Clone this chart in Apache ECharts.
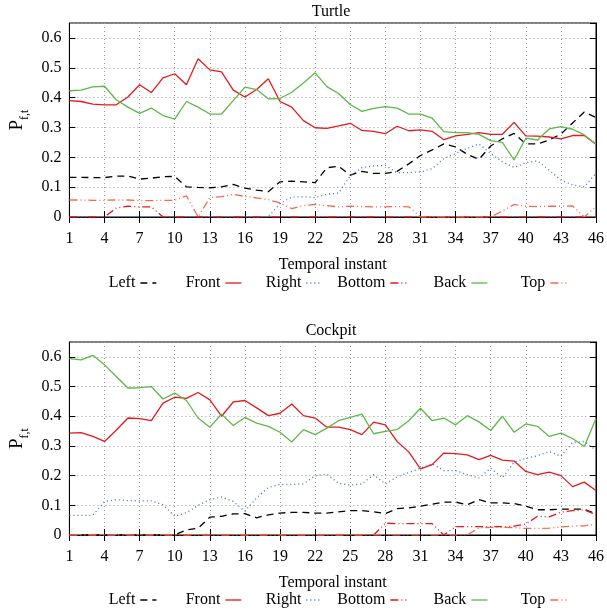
<!DOCTYPE html>
<html>
<head>
<meta charset="utf-8">
<script src="https://cdn.jsdelivr.net/npm/echarts@6/dist/echarts.min.js"></script>
<style>html,body{margin:0;padding:0;background:#fff}#c{width:607px;height:612px}</style>
</head>
<body>
<div id="c"></div>
<script>
const instants = ['1','2','3','4','5','6','7','8','9','10','11','12','13','14','15','16','17','18','19','20','21','22','23','24','25','26','27','28','29','30','31','32','33','34','35','36','37','38','39','40','41','42','43','44','45','46'];
const yTicks = [0, 0.1, 0.2, 0.3, 0.4, 0.5, 0.6];
const seriesNames = ['Left', 'Front', 'Right', 'Bottom', 'Back', 'Top'];

// Turtle
const turtleLeft   = [0.133,0.133,0.132,0.132,0.137,0.137,0.127,0.13,0.135,0.136,0.101,0.099,0.098,0.101,0.109,0.097,0.09,0.085,0.118,0.12,0.118,0.115,0.165,0.17,0.14,0.153,0.146,0.146,0.153,0.178,0.206,0.225,0.245,0.235,0.21,0.193,0.238,0.262,0.28,0.245,0.245,0.258,0.278,0.315,0.352,0.333];
const turtleFront  = [0.39,0.387,0.378,0.376,0.376,0.402,0.443,0.417,0.466,0.48,0.443,0.53,0.493,0.486,0.425,0.402,0.427,0.463,0.387,0.368,0.323,0.299,0.297,0.305,0.314,0.29,0.287,0.279,0.304,0.289,0.292,0.287,0.259,0.272,0.277,0.283,0.277,0.277,0.317,0.272,0.271,0.268,0.262,0.273,0.273,0.244];
const turtleRight  = [0,0,0,0,0,0,0,0,0,0,0,0,0,0,0,0,0,0,0.045,0.067,0.068,0.065,0.076,0.08,0.138,0.166,0.171,0.173,0.148,0.149,0.151,0.162,0.196,0.213,0.23,0.245,0.213,0.185,0.166,0.182,0.188,0.157,0.124,0.107,0.101,0.147];
const turtleBottom = [0,0,0,0,0.03,0.036,0.034,0.034,0,0,0,0,0,0,0,0,0,0,0,0,0,0,0,0,0,0,0,0,0,0,0,0,0,0,0,0,0,0,0,0,0,0,0,0,0,0];
const turtleBack   = [0.423,0.425,0.436,0.438,0.393,0.368,0.347,0.365,0.34,0.328,0.387,0.368,0.345,0.345,0.39,0.435,0.427,0.396,0.397,0.418,0.449,0.483,0.437,0.414,0.377,0.354,0.364,0.37,0.365,0.345,0.345,0.331,0.286,0.283,0.283,0.277,0.256,0.25,0.191,0.264,0.258,0.295,0.303,0.294,0.275,0.244];
const turtleTop    = [0.057,0.057,0.056,0.056,0.057,0.057,0.055,0.055,0.056,0.056,0.071,0,0.065,0.068,0.076,0.069,0.064,0.058,0.047,0.028,0.038,0.042,0.038,0.034,0.036,0.035,0.034,0.034,0.035,0.034,0,0,0,0,0,0,0,0.02,0.042,0.036,0.035,0.036,0.036,0.037,0,0.035];

// Cockpit
const cockpitLeft   = [0,0,0,0,0,0,0,0,0,0,0.017,0.023,0.06,0.063,0.071,0.072,0.058,0.068,0.074,0.076,0.076,0.074,0.074,0.078,0.082,0.082,0.078,0.072,0.089,0.091,0.097,0.104,0.111,0.111,0.102,0.119,0.108,0.108,0.106,0.097,0.085,0.085,0.087,0.087,0.087,0.071];
const cockpitFront  = [0.343,0.345,0.332,0.315,0.353,0.394,0.392,0.385,0.444,0.464,0.46,0.48,0.455,0.4,0.448,0.453,0.428,0.402,0.41,0.441,0.402,0.394,0.363,0.363,0.355,0.338,0.38,0.371,0.315,0.28,0.223,0.237,0.276,0.274,0.27,0.254,0.268,0.252,0.249,0.214,0.203,0.212,0.2,0.163,0.178,0.15];
const cockpitRight  = [0.066,0.066,0.066,0.113,0.119,0.116,0.115,0.115,0.102,0.063,0.075,0.1,0.119,0.128,0.113,0.08,0.125,0.16,0.17,0.17,0.172,0.2,0.205,0.174,0.168,0.172,0.203,0.172,0.196,0.21,0.225,0.24,0.217,0.217,0.203,0.192,0.225,0.193,0.245,0.258,0.267,0.281,0.265,0.312,0.315,0.286];
const cockpitBottom = [0,0,0,0,0,0,0,0,0,0,0,0,0,0,0,0,0,0,0,0,0,0,0,0,0,0,0,0.04,0.038,0.038,0.038,0.038,0,0.028,0.028,0.028,0.028,0.028,0.03,0.037,0.063,0.061,0.077,0.082,0.085,0.068];
const cockpitBack   = [0.594,0.59,0.605,0.573,0.534,0.495,0.496,0.5,0.458,0.478,0.453,0.394,0.363,0.407,0.369,0.396,0.377,0.366,0.346,0.313,0.355,0.338,0.36,0.385,0.396,0.407,0.341,0.349,0.355,0.385,0.427,0.385,0.394,0.371,0.402,0.381,0.352,0.4,0.346,0.374,0.366,0.332,0.343,0.325,0.298,0.392];
const cockpitTop    = [0,0,0,0,0,0,0,0,0,0,0,0,0,0,0,0,0,0,0,0,0,0,0,0,0,0,0,0,0,0,0,0,0,0,0,0.024,0.026,0.026,0.025,0.022,0.022,0.023,0.027,0.03,0.031,0.037];

const FONT = 'Liberation Serif';
const styles = {
  Left:   {color: '#000000', type: [7, 5]},
  Front:  {color: '#e41a1c', type: 'solid'},
  Right:  {color: '#4169c8', type: [1, 3]},
  Bottom: {color: '#e41a1c', type: [8, 3, 1, 3, 1, 3]},
  Back:   {color: '#5cb849', type: 'solid'},
  Top:    {color: '#f4694c', type: [8, 3, 1, 3, 1, 3]}
};

const grids = [
  {left: 67, top: 23, width: 529, height: 194, show: true, borderColor: '#000', borderWidth: 1},
  {left: 67, top: 342, width: 529, height: 193, show: true, borderColor: '#000', borderWidth: 1}
];

const xAxes = [], yAxes = [];
[0, 1].forEach(g => {
  xAxes.push({
    type: 'category', gridIndex: g, data: instants, boundaryGap: false,
    name: 'Temporal instant', nameLocation: 'middle', nameGap: 40,
    nameTextStyle: {fontFamily: FONT, fontSize: 16, color: '#000'},
    axisLine: {lineStyle: {color: '#000'}},
    axisTick: {inside: true, length: 6, interval: 2, lineStyle: {color: '#000'}},
    axisLabel: {interval: 2, margin: 14, fontFamily: FONT, fontSize: 16, color: '#000'},
    splitLine: {show: true, interval: 2, lineStyle: {color: '#9a9a9a', type: [1, 3]}}
  });
  xAxes.push({
    type: 'category', gridIndex: g, data: instants, boundaryGap: false, position: 'top',
    axisLine: {show: true, lineStyle: {color: '#000'}},
    axisTick: {inside: true, length: 6, interval: 2, lineStyle: {color: '#000'}},
    axisLabel: {show: false}, splitLine: {show: false}
  });
  yAxes.push({
    type: 'value', gridIndex: g, min: yTicks[0], max: 0.65, interval: 0.1,
    name: '{p|P}{s|f,t}', nameLocation: 'middle', nameGap: 38, nameRotate: 90,
    nameTextStyle: {fontFamily: FONT, color: '#000',
      rich: {p: {fontFamily: FONT, fontSize: 19, lineHeight: 26, color: '#000'},
             s: {fontFamily: FONT, fontSize: 12, lineHeight: 12, verticalAlign: 'bottom', color: '#000'}}},
    axisLine: {show: true, lineStyle: {color: '#000'}},
    axisTick: {show: true, inside: true, length: 6, lineStyle: {color: '#000'}},
    axisLabel: {margin: 8, fontFamily: FONT, fontSize: 16, color: '#000', showMaxLabel: false},
    splitLine: {show: true, lineStyle: {color: '#9a9a9a', type: [1, 3]}}
  });
  yAxes.push({
    type: 'value', gridIndex: g, min: yTicks[0], max: 0.65, interval: 0.1, position: 'right',
    axisLine: {show: true, lineStyle: {color: '#000'}},
    axisTick: {show: true, inside: true, length: 6, lineStyle: {color: '#000'}},
    axisLabel: {show: false}, splitLine: {show: false}
  });
});

const datasets = [
  {Left: turtleLeft, Front: turtleFront, Right: turtleRight, Bottom: turtleBottom, Back: turtleBack, Top: turtleTop},
  {Left: cockpitLeft, Front: cockpitFront, Right: cockpitRight, Bottom: cockpitBottom, Back: cockpitBack, Top: cockpitTop}
];

const series = [];
[0, 1].forEach(g => {
  seriesNames.forEach(n => {
    series.push({
      name: n, type: 'line', xAxisIndex: g * 2, yAxisIndex: g * 2,
      data: datasets[g][n], showSymbol: false, symbol: 'none', animation: false,
      lineStyle: {color: styles[n].color, type: styles[n].type, width: 1.3},
      itemStyle: {color: styles[n].color}
    });
  });
});

const sampleEnds = [157, 242, 323, 407, 488, 567];
const legends = [];
[275, 592].forEach(top => {
  seriesNames.forEach((n, i) => {
    legends.push({
      data: [n], right: 607 - sampleEnds[i], top: top, padding: 0, align: 'right',
      itemWidth: 16, itemHeight: 10, selectedMode: false,
      itemStyle: {opacity: 0},
      lineStyle: {width: 1.3},
      textStyle: {fontFamily: FONT, fontSize: 16, color: '#000'}
    });
  });
});

const chart = echarts.init(document.getElementById('c'), null, {renderer: 'canvas'});
chart.setOption({
  animation: false,
  backgroundColor: '#fff',
  title: [
    {text: 'Turtle', left: 331, top: 4, textAlign: 'center', padding: 0,
     textStyle: {fontFamily: FONT, fontSize: 16, fontWeight: 'normal', color: '#000'}},
    {text: 'Cockpit', left: 331, top: 323, textAlign: 'center', padding: 0,
     textStyle: {fontFamily: FONT, fontSize: 16, fontWeight: 'normal', color: '#000'}}
  ],
  legend: legends,
  grid: grids,
  xAxis: xAxes,
  yAxis: yAxes,
  series: series
});
</script>
</body>
</html>
